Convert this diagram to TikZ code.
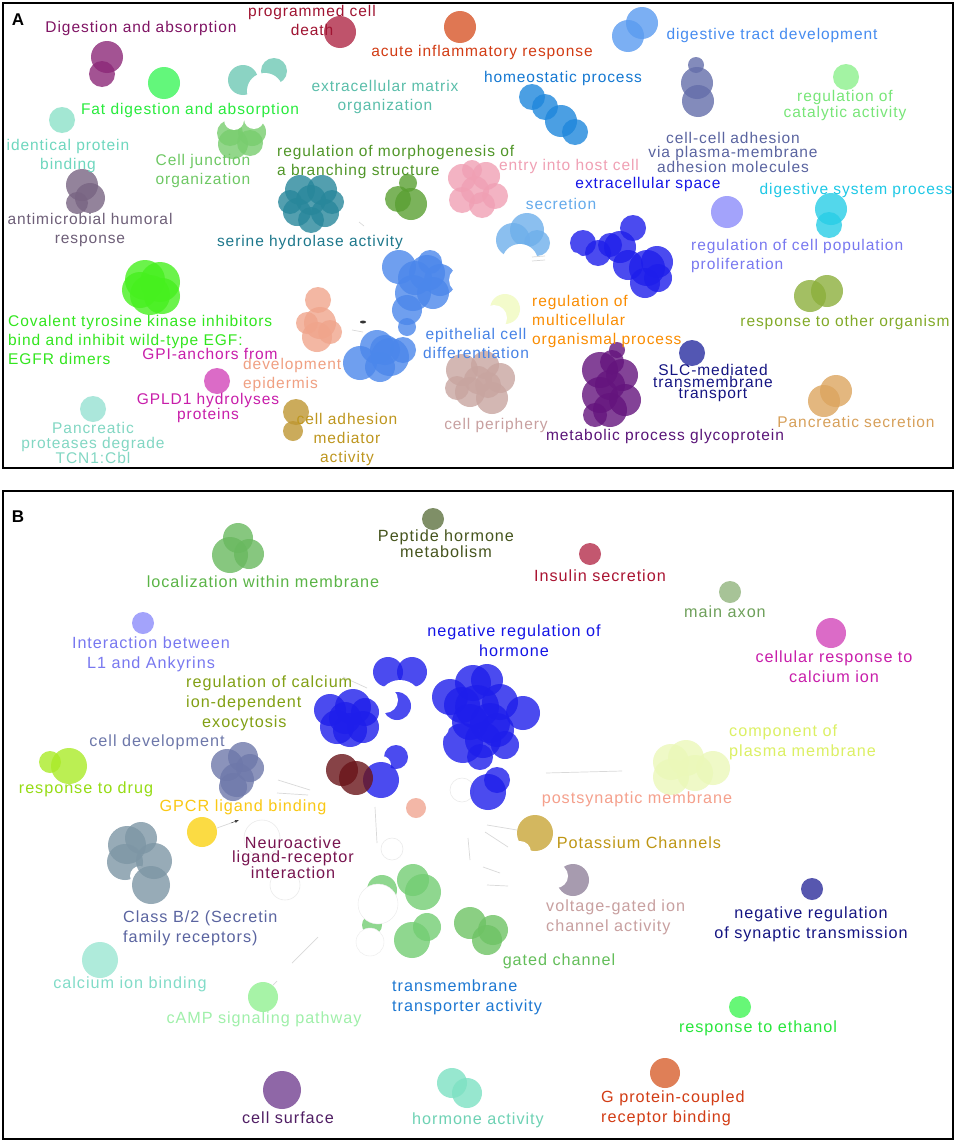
\documentclass[tikz,border=0pt]{standalone}
\usepackage{fontspec}
\setmainfont{Liberation Sans}[LetterSpace=6]
\usetikzlibrary{arrows.meta}

\definecolor{dgC}{RGB}{140,40,120}\definecolor{dgT}{RGB}{128,20,100}
\definecolor{pcdC}{RGB}{175,40,70}\definecolor{pcdT}{RGB}{160,20,50}
\definecolor{airC}{RGB}{215,85,40}\definecolor{airT}{RGB}{210,60,20}
\definecolor{fdaC}{RGB}{60,245,90}\definecolor{fdaT}{RGB}{40,235,60}
\definecolor{ecmC}{RGB}{110,200,180}\definecolor{ecmT}{RGB}{90,190,170}
\definecolor{ipbC}{RGB}{140,225,200}\definecolor{ipbT}{RGB}{110,215,190}
\definecolor{cjoC}{RGB}{120,205,110}\definecolor{cjoT}{RGB}{110,200,100}
\definecolor{amhC}{RGB}{120,100,130}\definecolor{amhT}{RGB}{110,95,120}
\definecolor{rmbC}{RGB}{90,160,50}\definecolor{rmbT}{RGB}{80,150,40}
\definecolor{shaC}{RGB}{40,135,155}\definecolor{shaT}{RGB}{30,120,140}
\definecolor{ehcC}{RGB}{240,160,180}\definecolor{ehcT}{RGB}{240,160,180}
\definecolor{dtdC}{RGB}{90,155,240}\definecolor{dtdT}{RGB}{70,140,240}
\definecolor{homC}{RGB}{30,135,220}\definecolor{homT}{RGB}{20,120,210}
\definecolor{ccaC}{RGB}{100,110,170}\definecolor{ccaT}{RGB}{90,100,160}
\definecolor{rcaC}{RGB}{140,240,140}\definecolor{rcaT}{RGB}{120,230,120}
\definecolor{dspC}{RGB}{40,205,230}\definecolor{dspT}{RGB}{30,200,230}
\definecolor{rcpC}{RGB}{140,140,250}\definecolor{rcpT}{RGB}{120,120,240}
\definecolor{secC}{RGB}{110,175,235}\definecolor{secT}{RGB}{100,170,235}
\definecolor{ecsC}{RGB}{30,30,235}\definecolor{ecsT}{RGB}{20,20,230}
\definecolor{ecdC}{RGB}{75,135,235}\definecolor{ecdT}{RGB}{70,130,230}
\definecolor{rmoC}{RGB}{240,250,190}\definecolor{rmoT}{RGB}{250,140,0}
\definecolor{devC}{RGB}{240,165,140}\definecolor{devT}{RGB}{240,160,130}
\definecolor{gpiC}{RGB}{210,70,185}\definecolor{gpiT}{RGB}{200,30,170}
\definecolor{covC}{RGB}{70,240,30}\definecolor{covT}{RGB}{50,230,30}
\definecolor{ppdC}{RGB}{150,225,210}\definecolor{ppdT}{RGB}{130,215,195}
\definecolor{cadC}{RGB}{190,150,50}\definecolor{cadT}{RGB}{190,150,30}
\definecolor{cpeC}{RGB}{200,165,160}\definecolor{cpeT}{RGB}{200,160,160}
\definecolor{mpgC}{RGB}{100,20,125}\definecolor{mpgT}{RGB}{90,20,120}
\definecolor{slcC}{RGB}{40,45,160}\definecolor{slcT}{RGB}{20,20,130}
\definecolor{rorC}{RGB}{140,175,60}\definecolor{rorT}{RGB}{130,170,40}
\definecolor{pseC}{RGB}{220,165,95}\definecolor{pseT}{RGB}{215,160,90}
\definecolor{phmC}{RGB}{95,115,65}\definecolor{phmT}{RGB}{70,85,30}
\definecolor{lwmC}{RGB}{105,185,95}\definecolor{lwmT}{RGB}{90,180,70}
\definecolor{iscC}{RGB}{180,45,75}\definecolor{iscT}{RGB}{170,20,50}
\definecolor{axnC}{RGB}{145,180,125}\definecolor{axnT}{RGB}{110,160,90}
\definecolor{rceT}{RGB}{130,160,20}
\definecolor{cpmC}{RGB}{235,248,185}\definecolor{cpmT}{RGB}{220,240,100}
\definecolor{cdvC}{RGB}{110,120,170}\definecolor{cdvT}{RGB}{110,120,170}
\definecolor{rdrC}{RGB}{170,235,40}\definecolor{rdrT}{RGB}{150,220,20}
\definecolor{gpcC}{RGB}{250,210,20}\definecolor{gpcT}{RGB}{250,200,20}
\definecolor{psmC}{RGB}{240,165,145}\definecolor{psmT}{RGB}{245,160,140}
\definecolor{pkcC}{RGB}{200,165,55}\definecolor{pkcT}{RGB}{190,150,20}
\definecolor{nlrC}{RGB}{105,20,25}\definecolor{nlrT}{RGB}{120,20,80}
\definecolor{vgiC}{RGB}{145,130,155}\definecolor{vgiT}{RGB}{200,160,160}
\definecolor{nstC}{RGB}{45,45,155}\definecolor{nstT}{RGB}{20,20,130}
\definecolor{clsC}{RGB}{125,150,165}\definecolor{clsT}{RGB}{90,100,160}
\definecolor{gchC}{RGB}{110,195,100}\definecolor{gchT}{RGB}{100,190,90}
\definecolor{cibC}{RGB}{155,230,210}\definecolor{cibT}{RGB}{130,220,200}
\definecolor{ttaC}{RGB}{115,205,115}\definecolor{ttaT}{RGB}{30,120,210}
\definecolor{cmpC}{RGB}{145,240,145}\definecolor{cmpT}{RGB}{160,240,170}
\definecolor{retC}{RGB}{65,245,85}\definecolor{retT}{RGB}{40,230,60}
\definecolor{gprC}{RGB}{215,95,45}\definecolor{gprT}{RGB}{210,60,20}
\definecolor{csfC}{RGB}{115,65,145}\definecolor{csfT}{RGB}{80,30,100}
\definecolor{hacC}{RGB}{125,225,195}\definecolor{hacT}{RGB}{110,210,180}

\begin{document}
\begin{tikzpicture}[x=1pt,y=-1pt,font=\fontsize{15.5}{19}\selectfont,
  bub/.style={fill=#1,fill opacity=.8},
  bite/.style={fill=white},
  ghost/.style={draw=black!8,line width=.6pt},
  link/.style={draw=black!15,line width=.7pt},
  lab/.style={text=#1,inner sep=0pt,align=center},
  lead/.style={font=\fontsize{15.5}{#1}\selectfont},
  panel/.style={text=black,inner sep=0pt,font=\fontsize{17}{20}\selectfont\bfseries}]
\useasboundingbox (0,0) rectangle (957,1143);
\fill[white] (0,0) rectangle (957,1143);
\draw[line width=2.5pt] (3,3) rectangle (953,468);
\draw[line width=2.5pt] (3,491) rectangle (953,1139);

\fill[bub=dgC] (107,57) circle (16pt);
\fill[bub=dgC] (102,74) circle (13pt);
\fill[bub=pcdC] (340,32) circle (16pt);
\fill[bub=airC] (460,27) circle (16pt);
\fill[bub=fdaC] (164,83) circle (16pt);
\fill[bub=ecmC] (243,80) circle (15pt);
\fill[bub=ecmC] (274,71) circle (13pt);
\fill[bite] (265,91) circle (18pt);
\fill[bub=ipbC] (62,120) circle (13pt);
\fill[bub=cjoC] (230,133) circle (13pt);
\fill[bub=cjoC] (252,132) circle (14pt);
\fill[bub=cjoC] (233,144) circle (15pt);
\fill[bub=cjoC] (250,143) circle (13pt);
\fill[bite] (234,120) circle (10pt);
\fill[bite] (254,119) circle (10pt);
\fill[bub=amhC] (82,185) circle (16pt);
\fill[bub=amhC] (90,198) circle (15pt);
\fill[bub=amhC] (77,203) circle (11pt);
\fill[bub=rmbC] (408,183) circle (9pt);
\fill[bub=rmbC] (398,199) circle (13pt);
\fill[bub=rmbC] (411,204) circle (16pt);
\fill[bub=shaC] (300,190) circle (15pt);
\fill[bub=shaC] (322,190) circle (15pt);
\fill[bub=shaC] (297,212) circle (14pt);
\fill[bub=shaC] (325,213) circle (14pt);
\fill[bub=shaC] (311,220) circle (13pt);
\fill[bub=shaC] (311,200) circle (15pt);
\fill[bub=shaC] (290,202) circle (12pt);
\fill[bub=shaC] (332,202) circle (12pt);
\fill[bub=ehcC] (462,178) circle (14pt);
\fill[bub=ehcC] (486,176) circle (14pt);
\fill[bub=ehcC] (495,196) circle (13pt);
\fill[bub=ehcC] (462,200) circle (13pt);
\fill[bub=ehcC] (482,205) circle (13pt);
\fill[bub=ehcC] (475,190) circle (14pt);
\fill[bub=ehcC] (472,170) circle (10pt);
\fill[bub=dtdC] (628,36) circle (16pt);
\fill[bub=dtdC] (642,23) circle (16pt);
\fill[bub=homC] (532,97) circle (13pt);
\fill[bub=homC] (545,107) circle (13pt);
\fill[bub=homC] (561,121) circle (16pt);
\fill[bub=homC] (575,132) circle (13pt);
\fill[bub=ccaC] (696,65) circle (8pt);
\fill[bub=ccaC] (697,83) circle (16pt);
\fill[bub=ccaC] (698,101) circle (16pt);
\fill[bub=rcaC] (846,77) circle (13pt);
\fill[bub=dspC] (831,209) circle (16pt);
\fill[bub=dspC] (829,225) circle (13pt);
\fill[bub=rcpC] (727,212) circle (16pt);
\fill[bub=secC] (527,230) circle (17pt);
\fill[bub=secC] (513,240) circle (17pt);
\fill[bub=secC] (537,243) circle (13pt);
\fill[bite] (520,262) circle (18pt);
\fill[bub=ecsC] (583,243) circle (13pt);
\fill[bite] (573,262) circle (10pt);
\fill[bub=ecsC] (598,253) circle (13pt);
\fill[bub=ecsC] (610,245) circle (12pt);
\fill[bub=ecsC] (620,247) circle (16pt);
\fill[bub=ecsC] (633,228) circle (13pt);
\fill[bub=ecsC] (628,265) circle (15pt);
\fill[bub=ecsC] (647,268) circle (18pt);
\fill[bub=ecsC] (657,262) circle (16pt);
\fill[bub=ecsC] (645,283) circle (15pt);
\fill[bub=ecsC] (658,278) circle (14pt);
\fill[bub=ecdC] (399,267) circle (17pt);
\fill[bub=ecdC] (427,273) circle (18pt);
\fill[bub=ecdC] (440,280) circle (16pt);
\fill[bub=ecdC] (413,293) circle (18pt);
\fill[bub=ecdC] (433,293) circle (16pt);
\fill[bub=ecdC] (415,278) circle (17pt);
\fill[bub=ecdC] (430,262) circle (12pt);
\fill[bub=ecdC] (407,310) circle (15pt);
\fill[bite] (462,280) circle (13pt);
\fill[bub=ecdC] (407,327) circle (9pt);
\fill[bub=ecdC] (377,347) circle (17pt);
\fill[bub=ecdC] (360,363) circle (17pt);
\fill[bub=ecdC] (390,357) circle (19pt);
\fill[bub=ecdC] (403,350) circle (13pt);
\fill[bub=ecdC] (380,367) circle (15pt);
\fill[bub=ecdC] (385,350) circle (15pt);
\fill[bub=rmoC] (505,309) circle (15pt);
\fill[bite] (494,318) circle (13pt);
\fill[bub=devC] (318,300) circle (13pt);
\fill[bub=devC] (320,323) circle (16pt);
\fill[bub=devC] (317,337) circle (15pt);
\fill[bub=devC] (307,323) circle (11pt);
\fill[bub=devC] (330,332) circle (12pt);
\fill[bub=gpiC] (217,381) circle (13pt);
\fill[bub=covC] (145,280) circle (20pt);
\fill[bub=covC] (160,282) circle (20pt);
\fill[bub=covC] (150,295) circle (20pt);
\fill[bub=covC] (140,290) circle (18pt);
\fill[bub=covC] (162,296) circle (18pt);
\fill[bub=ppdC] (93,409) circle (13pt);
\fill[bub=cadC] (296,412) circle (13pt);
\fill[bub=cadC] (293,431) circle (10pt);
\fill[bub=cpeC] (462,370) circle (16pt);
\fill[bub=cpeC] (485,365) circle (14pt);
\fill[bub=cpeC] (500,378) circle (15pt);
\fill[bub=cpeC] (470,392) circle (15pt);
\fill[bub=cpeC] (492,398) circle (16pt);
\fill[bub=cpeC] (478,380) circle (14pt);
\fill[bub=cpeC] (457,388) circle (12pt);
\fill[bub=cpeC] (488,385) circle (13pt);
\fill[bub=mpgC] (617,350) circle (8pt);
\fill[bub=mpgC] (600,370) circle (18pt);
\fill[bub=mpgC] (622,375) circle (16pt);
\fill[bub=mpgC] (600,395) circle (18pt);
\fill[bub=mpgC] (625,400) circle (16pt);
\fill[bub=mpgC] (610,410) circle (17pt);
\fill[bub=mpgC] (595,415) circle (12pt);
\fill[bub=mpgC] (610,385) circle (15pt);
\fill[bub=mpgC] (612,362) circle (12pt);
\fill[bub=slcC] (692,353) circle (13pt);
\fill[bub=rorC] (810,296) circle (16pt);
\fill[bub=rorC] (827,291) circle (16pt);
\fill[bub=pseC] (824,401) circle (16pt);
\fill[bub=pseC] (836,391) circle (16pt);
\draw[link] (359,222) -- (364,226);
\draw[link] (532,257) -- (545,256);
\draw[link] (532,261) -- (545,260);
\draw[link] (352,330) -- (363,332);
\fill[black!80] (363,322) ellipse (3pt and 1.5pt);

\node[panel] (pa) at (18,20) {A};
\node[lab=dgT] (digab) at (141,28) {Digestion and absorption};
\node[lab=pcdT] (pcd) at (312,20) {programmed cell\\death};
\node[lab=airT] (air) at (482,52) {acute inflammatory response};
\node[lab=dtdT] (dtd) at (772,35) {digestive tract development};
\node[lab=fdaT] (fda) at (190,110) {Fat digestion and absorption};
\node[lab=ecmT] (ecm) at (385,97) {extracellular matrix\\organization};
\node[lab=homT] (hom) at (563,78) {homeostatic process};
\node[lab=ccaT,lead=14.5] (cca) at (733,152) {cell-cell adhesion\\via plasma-membrane\\adhesion molecules};
\node[lab=rcaT,lead=16] (rca) at (845,105) {regulation of\\catalytic activity};
\node[lab=ipbT] (ipb) at (68,156) {identical protein\\binding};
\node[lab=cjoT] (cjo) at (203,171) {Cell junction\\organization};
\node[lab=rmbT,anchor=west,align=left] (rmb) at (277,162) {regulation of morphogenesis of\\a branching structure};
\node[lab=ehcT] (ehc) at (569,166) {entry into host cell};
\node[lab=ecsT] (ecs) at (648,184) {extracellular space};
\node[lab=dspT] (dsp) at (856,190) {digestive system process};
\node[lab=amhT] (amh) at (90,230) {antimicrobial humoral\\response};
\node[lab=shaT] (sha) at (310,242) {serine hydrolase activity};
\node[lab=secT] (sec) at (561,204) {secretion};
\node[lab=rcpT,anchor=west,align=left] (rcp) at (691,256) {regulation of cell population\\proliferation};
\node[lab=covT,anchor=west,align=left] (cov) at (8,340) {Covalent tyrosine kinase inhibitors\\bind and inhibit wild-type EGF:\\EGFR dimers};
\node[lab=rmoT,anchor=west,align=left] (rmo) at (532,321) {regulation of\\multicellular\\organismal process};
\node[lab=rorT] (ror) at (845,322) {response to other organism};
\node[lab=ecdT] (ecd) at (476,343) {epithelial cell\\differentiation};
\node[lab=gpiT] (gpi) at (210,354) {GPI-anchors from};
\node[lab=gpiT,lead=14] (gpld) at (208,408) {GPLD1 hydrolyses\\proteins};
\node[lab=devT,anchor=west,align=left] (dev) at (243,375) {development\\epidermis};
\node[lab=slcT,lead=11] (slc) at (713,383) {SLC-mediated\\transmembrane\\transport};
\node[lab=cadT] (cad) at (347,439) {cell adhesion\\mediator\\activity};
\node[lab=ppdT,lead=15] (ppd) at (93,443) {Pancreatic\\proteases degrade\\TCN1:Cbl};
\node[lab=cpeT] (cpe) at (496,425) {cell periphery};
\node[lab=mpgT] (mpg) at (665,436) {metabolic process glycoprotein};
\node[lab=pseT] (pse) at (856,422) {Pancreatic secretion};

\begin{scope}[font=\fontsize{16.2}{20}\selectfont,lead/.style={font=\fontsize{16.2}{#1}\selectfont}]
\draw[ghost] (262,838) circle (18pt);
\draw[ghost] (285,885) circle (15pt);
\draw[ghost] (392,849) circle (11pt);
\draw[ghost] (462,790) circle (12pt);
\draw[link] (546,773) -- (622,771);
\draw[link] (278,780) -- (310,790);
\draw[link] (277,793) -- (308,795);
\draw[link] (343,677) -- (367,688);
\draw[link] (487,825) -- (517,830);
\draw[link] (485,832) -- (508,847);
\draw[link] (468,838) -- (470,860);
\draw[link] (483,867) -- (500,873);
\draw[link] (487,885) -- (508,886);
\draw[link] (375,807) -- (377,843);
\draw[link] (292,963) -- (318,937);
\draw[link] (273,985) -- (277,981);
\draw[link] (217,828) -- (231,823);
\draw[black!80,-{Latex[length=4pt,width=3pt]}] (231,823) -- (239,820);

\fill[bub=phmC] (433,519) circle (11pt);
\fill[bub=lwmC] (238,538) circle (15pt);
\fill[bub=lwmC] (230,555) circle (18pt);
\fill[bub=lwmC] (249,554) circle (15pt);
\fill[bub=iscC] (590,554) circle (11pt);
\fill[bub=axnC] (730,592) circle (11pt);
\fill[bub=rcpC] (143,623) circle (11pt);
\fill[bub=gpiC] (831,633) circle (15pt);
\fill[bub=rdrC] (50,762) circle (11pt);
\fill[bub=rdrC] (69,766) circle (18pt);
\fill[bub=cdvC] (243,757) circle (15pt);
\fill[bub=cdvC] (227,765) circle (16pt);
\fill[bub=cdvC] (237,780) circle (17pt);
\fill[bub=cdvC] (250,768) circle (14pt);
\fill[bub=cdvC] (233,787) circle (14pt);
\fill[bub=ecsC] (388,672) circle (15pt);
\fill[bub=ecsC] (412,672) circle (15pt);
\fill[bite] (400,702) circle (22pt);
\fill[bub=ecsC] (397,706) circle (14pt);
\fill[bite] (385,700) circle (13pt);
\fill[bub=ecsC] (330,710) circle (16pt);
\fill[bub=ecsC] (353,707) circle (18pt);
\fill[bub=ecsC] (363,727) circle (16pt);
\fill[bub=ecsC] (337,727) circle (17pt);
\fill[bub=ecsC] (350,730) circle (17pt);
\fill[bub=ecsC] (365,712) circle (14pt);
\fill[bub=ecsC] (345,718) circle (16pt);
\fill[bub=ecsC] (396,757) circle (12pt);
\fill[bite] (382,765) circle (9pt);
\fill[bub=ecsC] (381,780) circle (18pt);
\fill[bub=nlrC] (342,770) circle (16pt);
\fill[bub=nlrC] (356,778) circle (17pt);
\fill[bub=ecsC] (450,697) circle (18pt);
\fill[bub=ecsC] (473,683) circle (18pt);
\fill[bub=ecsC] (487,680) circle (16pt);
\fill[bub=ecsC] (477,707) circle (22pt);
\fill[bub=ecsC] (490,723) circle (20pt);
\fill[bub=ecsC] (463,743) circle (20pt);
\fill[bub=ecsC] (483,740) circle (18pt);
\fill[bub=ecsC] (497,730) circle (17pt);
\fill[bub=ecsC] (523,713) circle (17pt);
\fill[bub=ecsC] (462,705) circle (18pt);
\fill[bub=ecsC] (500,702) circle (18pt);
\fill[bub=ecsC] (470,722) circle (18pt);
\fill[bub=ecsC] (505,745) circle (14pt);
\fill[bub=ecsC] (480,757) circle (13pt);
\fill[bite] (437,727) circle (12pt);
\fill[bub=ecsC] (488,792) circle (18pt);
\fill[bub=ecsC] (497,780) circle (13pt);
\fill[bub=psmC] (416,808) circle (10pt);
\fill[bite] (403,822) circle (9pt);
\fill[bite] (429,822) circle (9pt);
\fill[bub=cpmC] (671,762) circle (18pt);
\fill[bub=cpmC] (686,758) circle (18pt);
\fill[bub=cpmC] (713,768) circle (17pt);
\fill[bub=cpmC] (671,777) circle (18pt);
\fill[bub=cpmC] (695,773) circle (18pt);
\fill[bub=gpcC] (202,832) circle (15pt);
\fill[bub=clsC] (127,845) circle (19pt);
\fill[bub=clsC] (141,838) circle (16pt);
\fill[bub=clsC] (125,862) circle (18pt);
\fill[bite] (140,876) circle (10pt);
\fill[bub=clsC] (154,861) circle (18pt);
\fill[bub=clsC] (151,885) circle (19pt);
\fill[bub=pkcC] (535,833) circle (18pt);
\fill[bite] (520,852) circle (11pt);
\fill[bub=vgiC] (573,880) circle (16pt);
\fill[bite] (556,876) circle (12pt);
\fill[bub=nstC] (812,889) circle (11pt);
\fill[bub=gchC] (470,923) circle (16pt);
\fill[bub=gchC] (493,930) circle (15pt);
\fill[bub=gchC] (487,940) circle (15pt);
\fill[bub=ttaC] (382,890) circle (15pt);
\fill[bub=ttaC] (413,880) circle (16pt);
\fill[bub=ttaC] (423,892) circle (18pt);
\fill[bub=ttaC] (412,940) circle (18pt);
\fill[bub=ttaC] (427,927) circle (14pt);
\fill[bub=ttaC] (372,925) circle (10pt);
\filldraw[bite,draw=black!8] (378,904) circle (20pt);
\filldraw[bite,draw=black!8] (370,942) circle (14pt);
\fill[bub=cibC] (100,960) circle (18pt);
\fill[bub=cmpC] (263,997) circle (15pt);
\fill[bub=retC] (740,1007) circle (11pt);
\fill[bub=gprC] (665,1073) circle (15pt);
\fill[bub=csfC] (282,1090) circle (19pt);
\fill[bub=hacC] (452,1083) circle (15pt);
\fill[bub=hacC] (467,1093) circle (15pt);

\node[panel] (pb) at (18,517) {B};
\node[lab=phmT,lead=13] (phm) at (446,544) {Peptide hormone\\metabolism};
\node[lab=lwmT] (lwm) at (263,582) {localization within membrane};
\node[lab=iscT] (isc) at (600,576) {Insulin secretion};
\node[lab=axnT] (axn) at (725,612) {main axon};
\node[lab=rcpT] (il1) at (151,654) {Interaction between\\L1 and Ankyrins};
\node[lab=ecsT] (nrh) at (514,641) {negative regulation of\\hormone};
\node[lab=gpiT] (crc) at (834,667) {cellular response to\\calcium ion};
\node[lab=rceT,anchor=west,align=left] (rce) at (186,703) {regulation of calcium\\ion-dependent\\\hspace*{16pt}exocytosis};
\node[lab=cpmT,anchor=west,align=left] (cpm) at (729,742) {component of\\plasma membrane};
\node[lab=cdvT] (cdv) at (157,742) {cell development};
\node[lab=rdrT] (rdr) at (86,789) {response to drug};
\node[lab=gpcT] (gpc) at (243,807) {GPCR ligand binding};
\node[lab=psmT] (psm) at (637,799) {postsynaptic membrane};
\node[lab=pkcT] (pkc) at (639,843) {Potassium Channels};
\node[lab=nlrT,lead=14] (nlr) at (293,858) {Neuroactive\\ligand-receptor\\interaction};
\node[lab=vgiT,anchor=west,align=left] (vgi) at (546,917) {voltage-gated ion\\channel activity};
\node[lab=nstT] (nst) at (811,924) {negative regulation\\of synaptic transmission};
\node[lab=clsT,anchor=west,align=left] (cls) at (123,928) {Class B/2 (Secretin\\family receptors)};
\node[lab=gchT] (gch) at (559,961) {gated channel};
\node[lab=cibT] (cib) at (130,984) {calcium ion binding};
\node[lab=ttaT,anchor=west,align=left] (tta) at (392,997) {transmembrane\\transporter activity};
\node[lab=cmpT] (cmp) at (264,1019) {cAMP signaling pathway};
\node[lab=retT] (ret) at (758,1028) {response to ethanol};
\node[lab=gprT,anchor=west,align=left] (gpr) at (601,1108) {G protein-coupled\\receptor binding};
\node[lab=csfT] (csf) at (288,1118) {cell surface};
\node[lab=hacT] (hac) at (478,1120) {hormone activity};
\end{scope}
\end{tikzpicture}
\end{document}
